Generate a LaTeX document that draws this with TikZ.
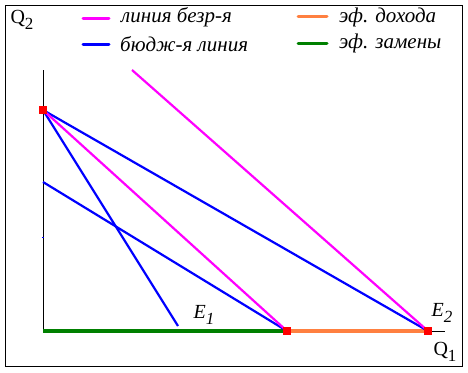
\documentclass[tikz,border=0pt]{standalone}
\usepackage{fontspec}
\setmainfont{Liberation Serif}
\definecolor{mgc}{RGB}{255,0,255}
\definecolor{blc}{RGB}{0,0,255}
\definecolor{grc}{RGB}{0,128,0}
\definecolor{orc}{RGB}{255,128,64}
\newcommand{\subx}[1]{\raisebox{-0.3em}{\fontsize{17}{19}\selectfont #1}}
\begin{document}
\begin{tikzpicture}[x=1pt,y=-1pt,
  bl/.style={draw=blc,line width=2.2pt},
  mg/.style={draw=mgc,line width=2.2pt},
  gr/.style={draw=grc,line width=4.5pt},
  orr/.style={draw=orc,line width=4.5pt},
  ax/.style={draw=black,line width=0.9pt},
  pt/.style={fill=red,inner sep=0pt,minimum size=8pt},
  lbl/.style={font=\fontsize{21}{24}\selectfont\itshape,anchor=west,inner sep=0pt},
  lab/.style={font=\fontsize{20}{23}\selectfont,inner sep=0pt}]
\useasboundingbox (0,0) rectangle (468,372);
\draw[line width=1pt] (5,5) rectangle (462,366);
% axes
\coordinate (O) at (43,331);
\coordinate (ytop) at (43,70);
\coordinate (xend) at (445,331);
\draw[ax] (O) -- (ytop);
\draw[ax] (O) -- (xend);
% points
\coordinate (A) at (43,110);
\coordinate (E1) at (287,331);
\coordinate (E2) at (428,331);
\coordinate (B) at (43,182);
\coordinate (C) at (178,326);
\coordinate (M) at (132,70);
% effects
\draw[gr] (O) -- (E1);
\draw[orr] (E1) -- (E2);
% lines
\draw[bl] (A) -- (E2);
\draw[bl] (A) -- (C);
\draw[bl] (B) -- (E1);
\draw[mg] (A) -- (E1);
\draw[mg] (M) -- (E2);
\draw[draw=blc,line width=1pt] (42,237) -- (44,237);
\node[pt] (pA) at (A) {};
\node[pt] (pE1) at (E1) {};
\node[pt] (pE2) at (E2) {};
% labels
\node[lab] (q2) at (22,20) {Q\subx{2}};
\node[lab] (q1) at (445,352) {Q\subx{1}};
\node[lab,font=\fontsize{20}{23}\selectfont\itshape] (le1) at (204,315) {E\subx{\itshape 1}};
\node[lab,font=\fontsize{20}{23}\selectfont\itshape] (le2) at (442,313) {E\subx{\itshape 2}};
% legend
\draw[draw=mgc,line width=3pt,line cap=round] (83,18) -- (109,18);
\node[lbl] (t1) at (121,17) {линия безр-я};
\draw[draw=blc,line width=3pt,line cap=round] (83,44) -- (109,44);
\node[lbl] (t2) at (120,44) {бюдж-я линия};
\draw[draw=orc,line width=3pt,line cap=round] (298,16) -- (327,16);
\node[lbl] (t3) at (339,17) {эф. дохода};
\draw[draw=grc,line width=3pt,line cap=round] (298,43) -- (327,43);
\node[lbl] (t4) at (339,43) {эф. замены};
\end{tikzpicture}
\end{document}
